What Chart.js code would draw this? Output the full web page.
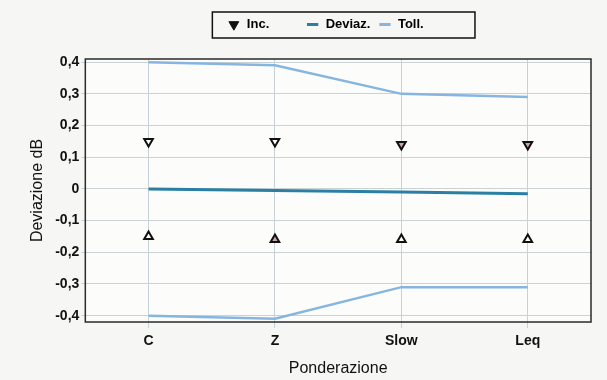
<!DOCTYPE html>
<html lang="it">
<head>
	<meta charset="UTF-8">
	<title>Deviazione ponderazione</title>
	<script src="https://cdn.jsdelivr.net/npm/chart.js@4.4.1/dist/chart.umd.min.js"></script>
	<style>
		html, body { margin: 0; padding: 0; background: #f6f7f4; }
		#wrap { width: 607px; height: 380px; }
	</style>
</head>
<body>
<div id="wrap"><canvas id="myChart" width="607" height="380"></canvas></div>
<script>
	const categories = ['C', 'Z', 'Slow', 'Leq'];
	const deviaz = [0, -0.005, -0.01, -0.015];
	const tollSup = [0.40, 0.39, 0.30, 0.29];
	const tollInf = [-0.40, -0.41, -0.31, -0.31];
	const incSup = [0.15, 0.15, 0.14, 0.14];
	const incInf = [-0.15, -0.16, -0.16, -0.16];
	const yTicks = [0.4, 0.3, 0.2, 0.1, 0, -0.1, -0.2, -0.3, -0.4];

	const WHITE = '#ffffff';
	const PINK = '#c9a2aa';
	const incSupFill = [WHITE, WHITE, PINK, PINK];
	const incInfFill = [WHITE, PINK, WHITE, WHITE];

	// punti Inc.: sopra (triangolo in giu') e sotto (triangolo in su)
	const incPoints = [];
	const incFill = [];
	const incRot = [];
	categories.forEach((c, i) => {
		incPoints.push({ x: c, y: incSup[i] });
		incFill.push(incSupFill[i]);
		incRot.push(180);
	});
	categories.forEach((c, i) => {
		incPoints.push({ x: c, y: incInf[i] });
		incFill.push(incInfFill[i]);
		incRot.push(0);
	});

	// spazio sotto la legenda
	const legendGap = {
		id: 'legendGap',
		beforeLayout(chart) {
			const lg = chart.legend;
			if (lg && !lg._gapPatched) {
				const fit = lg.fit;
				lg.fit = function () {
					fit.call(this);
					this.height += 18;
				};
				lg._gapPatched = true;
			}
		}
	};

	const frame = {
		id: 'frame',
		afterDraw(chart) {
			const ctx = chart.ctx;
			const a = chart.chartArea;
			ctx.save();
			ctx.strokeStyle = '#2a2a2a';
			ctx.lineWidth = 1.5;
			ctx.strokeRect(a.left, a.top, a.right - a.left, a.bottom - a.top);
			// riquadro della legenda
			const hb = chart.legend.legendHitBoxes;
			if (hb && hb.length) {
				const l = Math.min(...hb.map(h => h.left)) - 15;
				const r = Math.max(...hb.map(h => h.left + h.width)) + 26;
				const t = hb[0].top - 6;
				ctx.lineWidth = 1.5;
				ctx.strokeStyle = '#111';
				ctx.strokeRect(l, t, r - l, 26);
			}
			ctx.restore();
		}
	};

	const bg = {
		id: 'bg',
		beforeDraw(chart) {
			const ctx = chart.ctx;
			const a = chart.chartArea;
			ctx.save();
			ctx.fillStyle = '#fcfcfb';
			ctx.fillRect(a.left, a.top, a.right - a.left, a.bottom - a.top);
			ctx.restore();
		}
	};

	const font = 'Liberation Sans, Arial, sans-serif';
	Chart.defaults.font.family = font;
	Chart.defaults.color = '#111';

	const ctx = document.getElementById('myChart').getContext('2d');
	const myChart = new Chart(ctx, {
		type: 'line',
		data: {
			labels: categories,
			datasets: [
				{
					label: 'Inc.',
					data: incPoints,
					showLine: false,
					pointStyle: 'triangle',
					pointRotation: incRot,
					pointRadius: 5,
					pointBorderWidth: 2,
					pointBorderColor: '#111',
					pointBackgroundColor: incFill,
					borderColor: '#111',
					backgroundColor: '#111',
					order: 0
				},
				{
					label: 'Deviaz.',
					data: deviaz,
					borderColor: '#2a7fa3',
					backgroundColor: '#2a7fa3',
					borderWidth: 3,
					pointRadius: 0,
					order: 1
				},
				{
					label: 'Toll.',
					data: tollSup,
					borderColor: '#86b6e0',
					backgroundColor: '#86b6e0',
					borderWidth: 2.5,
					pointRadius: 0,
					order: 2
				},
				{
					label: 'Toll. inf',
					data: tollInf,
					borderColor: '#86b6e0',
					backgroundColor: '#86b6e0',
					borderWidth: 2.5,
					pointRadius: 0,
					order: 2
				}
			]
		},
		options: {
			responsive: false,
			animation: false,
			layout: { padding: { left: 24, right: 16, top: 10, bottom: 2 } },
			plugins: {
				tooltip: { enabled: false },
				legend: {
					position: 'top',
					fullSize: false,
					labels: {
						usePointStyle: true,
						boxHeight: 8,
						boxWidth: 14,
						padding: 8,
						font: { size: 13, weight: 'bold' },
						color: '#111',
						generateLabels(chart) {
							const ds = chart.data.datasets;
							return [
								{ text: 'Inc.        ', pointStyle: 'triangle', rotation: 180, fillStyle: '#111', strokeStyle: '#111', lineWidth: 1, datasetIndex: 0 },
								{ text: 'Deviaz.', pointStyle: 'line', fillStyle: ds[1].borderColor, strokeStyle: ds[1].borderColor, lineWidth: 3, datasetIndex: 1 },
								{ text: 'Toll.       ', pointStyle: 'line', fillStyle: ds[2].borderColor, strokeStyle: ds[2].borderColor, lineWidth: 3, datasetIndex: 2 }
							];
						}
					}
				}
			},
			scales: {
				x: {
					type: 'category',
					offset: true,
					grid: { color: '#c5d3d8', offset: false, tickLength: 6, drawTicks: true },
					border: { display: false },
					ticks: { font: { size: 14, weight: 'bold' }, color: '#111', padding: 5 },
					title: { display: true, text: 'Ponderazione', font: { size: 16 }, color: '#111', padding: { top: 4, bottom: 0 } }
				},
				y: {
					min: -0.42,
					max: 0.41,
					afterBuildTicks(scale) {
						scale.ticks = yTicks.map(v => ({ value: v }));
					},
					grid: { color: '#c9d3d6', tickLength: 4 },
					border: { display: false },
					ticks: {
						font: { size: 14, weight: 'bold' },
						color: '#111',
						padding: 2,
						callback: v => (Math.abs(v) < 1e-9 ? '0' : v.toFixed(1).replace('.', ','))
					},
					title: { display: true, text: 'Deviazione dB', font: { size: 16 }, color: '#111', padding: { bottom: 6 } }
				}
			}
		},
		plugins: [bg, frame, legendGap]
	});
</script>
</body>
</html>
